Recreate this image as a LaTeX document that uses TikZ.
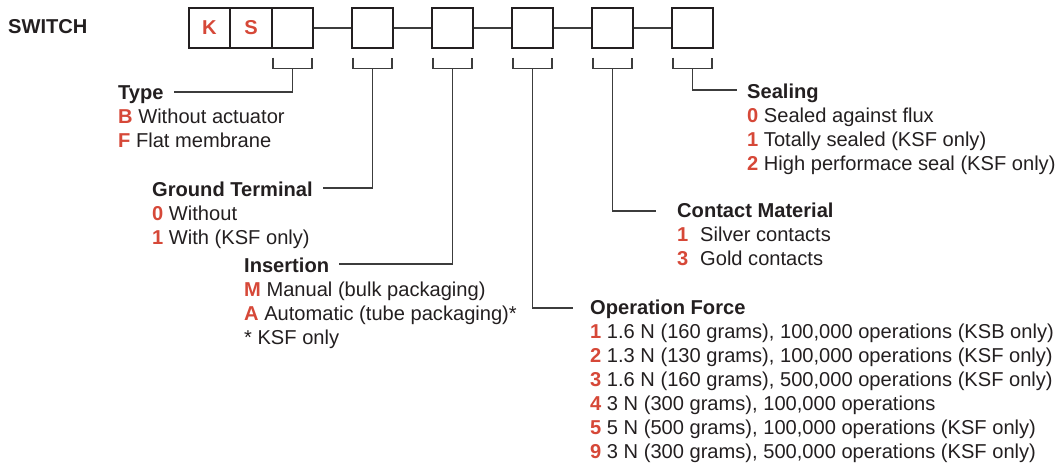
\documentclass[tikz,border=0pt]{standalone}
\usepackage{fontspec}
\setmainfont{Liberation Sans}
\usepackage{xcolor}
\definecolor{codered}{RGB}{214,72,56}
\definecolor{ink}{RGB}{35,31,32}
\definecolor{wirecol}{RGB}{60,60,60}
\newcommand{\opt}[1]{\textcolor{codered}{\textbf{#1}}}

\begin{document}
\begin{tikzpicture}[x=1pt,y=-1pt,
    every node/.style={font=\fontsize{20.1}{24}\selectfont,text=ink},
    box/.style={draw=ink,line width=1.3pt,minimum width=41pt,minimum height=40pt,inner sep=0pt},
    lbl/.style={anchor=base west,inner sep=0pt},
    head/.style={lbl,font=\fontsize{20.1}{24}\selectfont\bfseries},
    wire/.style={draw=wirecol,line width=1.2pt}]
            \useasboundingbox (0,0) rectangle (1063,464);

            \node (sw) at (8,33) [head] {SWITCH};
            \node (b1) at (209.5,28) [box] {\opt{K}};
            \node (b2) at (251,28) [box] {\opt{S}};
            \node (b3) at (292.5,28) [box] {};
            \foreach \i [count=\n from 4] in {0,...,4}
                \node (b\n) at (372.5+80*\i,28) [box] {};
            \foreach \i [count=\j from 4] in {3,...,7}
                \draw[wire] (b\i.east) -- (b\j.west);
            \foreach \i in {3,...,8} {
                \coordinate (k\i) at ([yshift=-20pt]b\i.south);
                \draw[wire] ([xshift=-19.5pt,yshift=11pt]k\i) -- ([xshift=-19.5pt]k\i)
                    -- ([xshift=19.5pt]k\i) -- ([xshift=19.5pt,yshift=11pt]k\i);
            }

            \node (type) at (118,99) [head] {Type};
            \node (type1) at (118,123) [lbl] {\opt{B} Without actuator};
            \node (type2) at (118,147) [lbl] {\opt{F} Flat membrane};

            \node (gnd) at (152,196) [head] {Ground Terminal};
            \node (gnd1) at (152,220) [lbl] {\opt{0} Without};
            \node (gnd2) at (152,244) [lbl] {\opt{1} With (KSF only)};

            \node (ins) at (244,272) [head] {Insertion};
            \node (ins1) at (244,296) [lbl] {\opt{M} Manual (bulk packaging)};
            \node (ins2) at (244,320) [lbl] {\opt{A} Automatic (tube packaging)*};
            \node (ins3) at (244,344) [lbl] {* KSF only};

            \node (force) at (590,314) [head] {Operation Force};
            \node (force1) at (590,338) [lbl] {\opt{1} 1.6 N (160 grams), 100,000 operations (KSB only)};
            \node (force2) at (590,362) [lbl] {\opt{2} 1.3 N (130 grams), 100,000 operations (KSF only)};
            \node (force3) at (590,386) [lbl] {\opt{3} 1.6 N (160 grams), 500,000 operations (KSF only)};
            \node (force4) at (590,410) [lbl] {\opt{4} 3 N (300 grams), 100,000 operations};
            \node (force5) at (590,434) [lbl] {\opt{5} 5 N (500 grams), 100,000 operations (KSF only)};
            \node (force9) at (590,458) [lbl] {\opt{9} 3 N (300 grams), 500,000 operations (KSF only)};

            \node (cont) at (677,217) [head] {Contact Material};
            \node (cont1) at (677,241) [lbl] {\makebox[23pt][l]{\opt{1}}Silver contacts};
            \node (cont3) at (677,265) [lbl] {\makebox[23pt][l]{\opt{3}}Gold contacts};

            \node (seal) at (747,98) [head] {Sealing};
            \node (seal0) at (747,122) [lbl] {\opt{0} Sealed against flux};
            \node (seal1) at (747,146) [lbl] {\opt{1} Totally sealed (KSF only)};
            \node (seal2) at (747,170) [lbl] {\opt{2} High performace seal (KSF only)};

            \draw[wire] (k3) |- ([xshift=10pt,yshift=7pt]type.base east);
            \draw[wire] (k4) |- ([xshift=10pt,yshift=8pt]gnd.base east);
            \draw[wire] (k5) |- ([xshift=10pt,yshift=8pt]ins.base east);
            \draw[wire] (k6) |- ([xshift=-17pt,yshift=6pt]force.base west);
            \draw[wire] (k7) |- ([xshift=-21pt,yshift=6pt]cont.base west);
            \draw[wire] (k8) |- ([xshift=-10pt,yshift=8pt]seal.base west);

        \end{tikzpicture}
\end{document}
